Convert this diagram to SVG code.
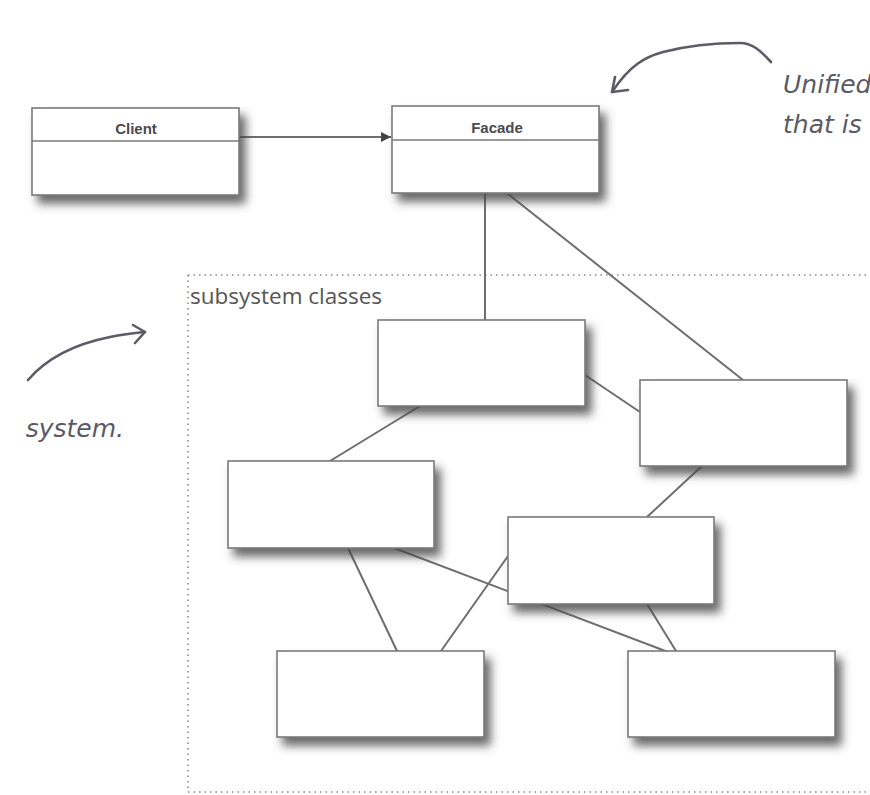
<svg xmlns="http://www.w3.org/2000/svg" width="870" height="795" viewBox="0 0 870 795">
<style>
.box{fill:#fff;stroke:#7a7a7a;stroke-width:1.6}
.div{stroke:#7a7a7a;stroke-width:1.6}
.cn{stroke:#6e6e6e;stroke-width:2;fill:none}
.hand{stroke:#5c5c66;stroke-width:2.6;fill:none;stroke-linecap:round;stroke-linejoin:round}
.lbl{font-family:"Liberation Sans",Arial,sans-serif;font-weight:bold;font-size:15px;fill:#4a4a50;text-anchor:middle}
.note{font-family:"DejaVu Sans",sans-serif;font-style:italic;font-size:25px;fill:#5a5a66}
.bnd{fill:none;stroke:#8a8a8a;stroke-width:1.6;stroke-dasharray:1.5 4}
</style>
<defs>
<filter id="sh" x="-10%" y="-20%" width="130%" height="160%">
<feDropShadow dx="6" dy="8" stdDeviation="5" flood-color="#444" flood-opacity="0.8"/>
</filter>
<marker id="ah" viewBox="0 0 10 10" refX="10" refY="5" markerWidth="10" markerHeight="10" markerUnits="userSpaceOnUse" orient="auto">
<path d="M0,0 L10,5 L0,10 Z" fill="#444"/>
</marker>
</defs>
<rect width="870" height="795" fill="#fff"/>
<path class="bnd" d="M188,275 H870 M188,275 V792 H870"/>
<text x="190" y="304" font-family="'Open Sans','Noto Sans',sans-serif" font-size="22.5" fill="#555">subsystem classes</text>
<g id="annotations">
<path class="hand" d="M771,62 C760,50 752,43 740,43 C715,43 690,45 663,52 C645,57 630,65 612,92"/>
<path class="hand" d="M615,77 L612,92 L628,90"/>
<text class="note" x="783" y="93">Unified</text>
<text class="note" x="783" y="133">that is</text>
<path class="hand" d="M28,380 C45,360 70,345 110,337 C125,334 135,333 145,332"/>
<path class="hand" d="M133,325 L145,332 L135,343"/>
<text class="note" x="124" y="437" text-anchor="end">system.</text>
</g>
<g id="connectors">
<line class="cn" x1="239" y1="137" x2="391" y2="137" marker-end="url(#ah)" stroke="#444"/>
<line class="cn" x1="485" y1="193" x2="485" y2="320"/>
<line class="cn" x1="508" y1="194" x2="743" y2="380"/>
<line class="cn" x1="420" y1="406" x2="330" y2="461"/>
<line class="cn" x1="585" y1="375" x2="640" y2="412"/>
<line class="cn" x1="703" y1="465" x2="647" y2="517"/>
<line class="cn" x1="348" y1="548" x2="397" y2="651"/>
<line class="cn" x1="394" y1="548" x2="668" y2="652"/>
<line class="cn" x1="441" y1="651" x2="508" y2="556"/>
<line class="cn" x1="647" y1="604" x2="676" y2="651"/>
</g>
<g id="client" filter="url(#sh)">
<rect class="box" x="32" y="108" width="207" height="87"/>
</g>
<g id="client-label">
<line class="div" x1="32" y1="141" x2="239" y2="141"/>
<text class="lbl" x="136" y="134">Client</text>
</g>
<g id="facade" filter="url(#sh)">
<rect class="box" x="392" y="106" width="207" height="87"/>
</g>
<g id="facade-label">
<line class="div" x1="392" y1="140" x2="599" y2="140"/>
<text class="lbl" x="497" y="133">Facade</text>
</g>
<g id="sub1" filter="url(#sh)"><rect class="box" x="378" y="320" width="207" height="86"/></g>
<g id="sub2" filter="url(#sh)"><rect class="box" x="640" y="380" width="207" height="86"/></g>
<g id="sub3" filter="url(#sh)"><rect class="box" x="228" y="461" width="206" height="87"/></g>
<g id="sub4" filter="url(#sh)"><rect class="box" x="508" y="517" width="206" height="87"/></g>
<g id="sub5" filter="url(#sh)"><rect class="box" x="277" y="651" width="207" height="86"/></g>
<g id="sub6" filter="url(#sh)"><rect class="box" x="628" y="651" width="207" height="86"/></g>
</svg>
